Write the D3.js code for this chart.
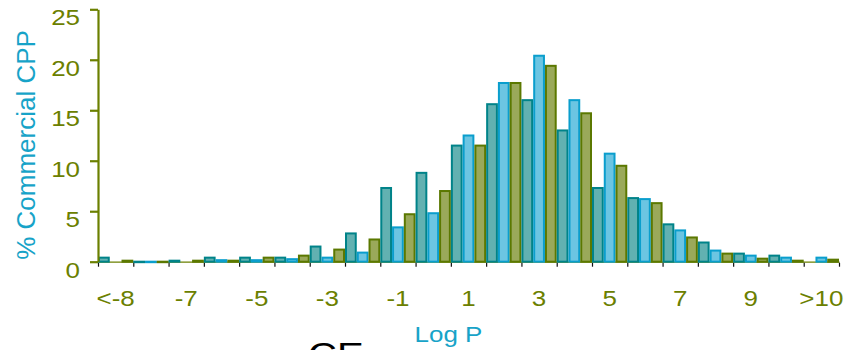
<!DOCTYPE html>
<html>
<head>
<meta charset="utf-8">
<script src="https://cdn.jsdelivr.net/npm/d3@7"></script>
<style>
  html, body { margin: 0; padding: 0; background: #fff; }
  svg { display: block; }
  text { font-family: "Liberation Sans", Arial, sans-serif; }
</style>
</head>
<body>
<svg id="chart" width="848" height="350"></svg>
<script>
// ---- data ----
const categories = ["<-8","-8","-7","-6","-5","-4","-3","-2","-1","0","1","2","3","4","5","6","7","8","9","10",">10"];
const xTickLabels = ["<-8","-7","-5","-3","-1","1","3","5","7","9",">10"];
const yTicks = [0, 5, 10, 15, 20, 25];
const seriesNames = ["A", "B", "C"];
const seriesA = [0.5,0.1,0.2,0.5,0.5,0.5,1.6,2.9,7.4,8.9,11.6,15.7,16.1,13.1,7.4,6.4,3.8,2.0,0.9,0.7,0];
const seriesB = [0,0.1,0,0.25,0.25,0.35,0.5,1.0,3.5,4.9,12.6,17.8,20.5,16.1,10.8,6.3,3.2,1.2,0.7,0.5,0.5];
const seriesC = [0.2,0.1,0.2,0.2,0.5,0.7,1.3,2.3,4.8,7.1,11.6,17.8,19.5,14.8,9.6,5.9,2.5,0.9,0.4,0.2,0.3];
const yLabel = "% Commercial CPP";
const xLabel = "Log P";

// ---- styles ----
const fills = { A: "#62b1b1", B: "#6cc5e2", C: "#9aa95a" };
const strokes = { A: "#008389", B: "#0a9ecd", C: "#5b7800" };
const olive = "#6b8000";
const blueText = "#17a3c8";
const stretch = 1.18;

const svg = d3.select("#chart");
const mLeft = 98, mRight = 839, mTop = 9.3, mBottom = 261.7;

const x = d3.scaleBand().domain(categories).range([mLeft, mRight]).padding(0);
const xSub = d3.scaleBand().domain(seriesNames).range([0, x.bandwidth()]).padding(0);
const xIdx = d3.scaleLinear().domain([0, categories.length]).range([mLeft, mRight]);
const y = d3.scaleLinear().domain([0, 25]).range([mBottom, mTop]);

const table = categories.map((c, i) => ({
  cat: c,
  values: [
    { key: "A", v: seriesA[i] },
    { key: "B", v: seriesB[i] },
    { key: "C", v: seriesC[i] }
  ]
}));

// x baseline + tick marks
const gx = svg.append("g").attr("transform", `translate(0,${mBottom})`)
  .call(d3.axisBottom(xIdx).tickValues(d3.range(categories.length + 1)).tickSize(5).tickSizeOuter(0).tickFormat(""));
gx.select(".domain").attr("stroke", olive).attr("stroke-width", 1.2);
gx.selectAll(".tick line").attr("stroke", "#111").attr("stroke-width", 1.2).attr("y1", 1);

// bars
const groups = svg.append("g").selectAll("g").data(table).join("g")
  .attr("transform", d => `translate(${x(d.cat)},0)`);
groups.selectAll("rect").data(d => d.values.filter(e => e.v > 0)).join("rect")
  .attr("x", d => xSub(d.key) + 1)
  .attr("width", xSub.bandwidth() - 2)
  .attr("y", d => y(d.v) + 1)
  .attr("height", d => Math.max(0.5, y(0) - y(d.v) - 1))
  .attr("fill", d => fills[d.key])
  .attr("stroke", d => strokes[d.key])
  .attr("stroke-width", 2);

// y axis
const gy = svg.append("g").attr("transform", `translate(${mLeft},0)`)
  .call(d3.axisLeft(y).tickValues(yTicks).tickSize(8).tickSizeOuter(0).tickFormat(""));
gy.select(".domain").attr("stroke", olive).attr("stroke-width", 2.2);
gy.selectAll(".tick line").attr("stroke", olive).attr("stroke-width", 2.2);

// y tick labels
svg.append("g").selectAll("text").data(yTicks).join("text")
  .attr("transform", d => `translate(80,${y(d) + 16}) scale(${stretch},1)`)
  .attr("text-anchor", "end")
  .attr("font-size", 22)
  .attr("fill", olive)
  .text(d => d);

// x tick labels
svg.append("g").selectAll("text").data(xTickLabels).join("text")
  .attr("transform", d => `translate(${x(d) + x.bandwidth() / 2},305.5) scale(${stretch},1)`)
  .attr("text-anchor", "middle")
  .attr("font-size", 22)
  .attr("fill", olive)
  .text(d => d);

// axis titles
svg.append("text")
  .attr("transform", `translate(448.5,341.5) scale(${stretch},1)`)
  .attr("text-anchor", "middle")
  .attr("font-size", 22)
  .attr("fill", blueText)
  .text(xLabel);

svg.append("text")
  .attr("transform", `translate(34.5,145) rotate(-90)`)
  .attr("text-anchor", "middle")
  .attr("font-size", 26)
  .attr("fill", blueText)
  .text(yLabel);

// clipped text at the bottom
svg.append("text")
  .attr("transform", `translate(308,366) scale(${stretch},1)`)
  .attr("font-size", 34)
  .attr("fill", "#000")
  .text("CE");
</script>
</body>
</html>
